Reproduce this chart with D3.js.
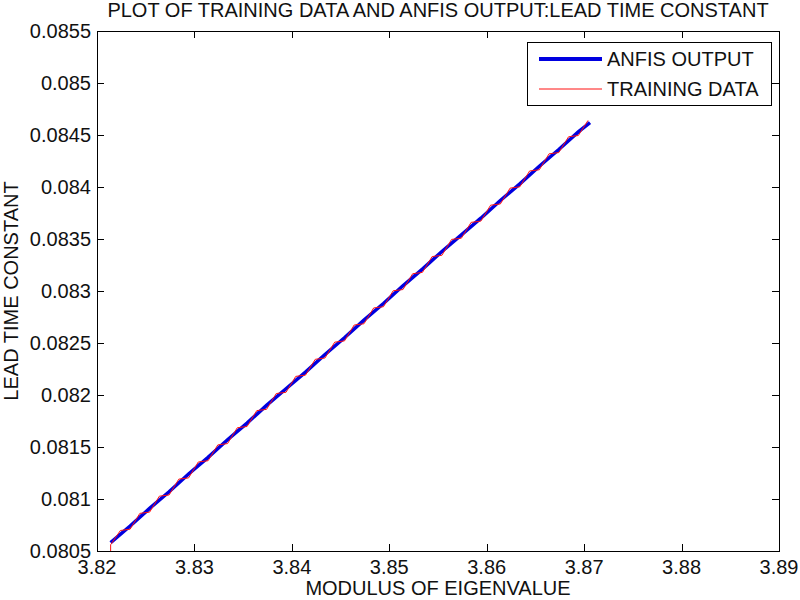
<!DOCTYPE html>
<html>
<head>
<meta charset="utf-8">
<script src="https://cdn.jsdelivr.net/npm/d3@7"></script>
<style>
  body { margin: 0; background: #fff; }
  text { font-family: "Liberation Sans", Arial, sans-serif; fill: #111; }
</style>
</head>
<body>
<div id="chart"></div>
<script>
// ANFIS output (thick blue)
const anfisX = [3.8214, 3.8234, 3.8254, 3.8274, 3.8294, 3.8314, 3.8334, 3.8354, 3.8374, 3.8394,
  3.8414, 3.8434, 3.8454, 3.8474, 3.8494, 3.8514, 3.8534, 3.8554, 3.8574, 3.8594,
  3.8614, 3.8634, 3.8654, 3.8674, 3.8694, 3.8706];
const anfisY = [0.08058, 0.08074, 0.08091, 0.08107, 0.08124, 0.08140, 0.08157, 0.08173, 0.08190, 0.08206,
  0.08222, 0.08239, 0.08255, 0.08272, 0.08288, 0.08305, 0.08321, 0.08338, 0.08354, 0.08370,
  0.08387, 0.08403, 0.08420, 0.08436, 0.08453, 0.08462];

// training data (thin red)
const trainX = [3.8214, 3.8214, 3.8224, 3.8234, 3.8244, 3.8254, 3.8264, 3.8274, 3.8284, 3.8294, 3.8304,
  3.8314, 3.8324, 3.8334, 3.8344, 3.8354, 3.8364, 3.8374, 3.8384, 3.8394, 3.8404,
  3.8414, 3.8424, 3.8434, 3.8444, 3.8454, 3.8464, 3.8474, 3.8484, 3.8494, 3.8504,
  3.8514, 3.8524, 3.8534, 3.8544, 3.8554, 3.8564, 3.8574, 3.8584, 3.8594, 3.8604,
  3.8614, 3.8624, 3.8634, 3.8644, 3.8654, 3.8664, 3.8674, 3.8684, 3.8694, 3.8704];
const trainY = [0.080500, 0.080560, 0.080697, 0.080710, 0.080862, 0.080874, 0.081027, 0.081039, 0.081191, 0.081203, 0.081356,
  0.081368, 0.081520, 0.081533, 0.081685, 0.081697, 0.081850, 0.081862, 0.082014, 0.082026, 0.082179,
  0.082191, 0.082343, 0.082356, 0.082508, 0.082520, 0.082673, 0.082685, 0.082837, 0.082849, 0.083002,
  0.083014, 0.083166, 0.083179, 0.083331, 0.083343, 0.083496, 0.083508, 0.083660, 0.083672, 0.083825,
  0.083837, 0.083989, 0.084002, 0.084154, 0.084166, 0.084319, 0.084331, 0.084483, 0.084495, 0.084640];

const xTicks = [3.82, 3.83, 3.84, 3.85, 3.86, 3.87, 3.88, 3.89];
const yTicks = [0.0805, 0.081, 0.0815, 0.082, 0.0825, 0.083, 0.0835, 0.084, 0.0845, 0.085, 0.0855];

const width = 800, height = 600;
const margin = { top: 31, right: 21, bottom: 49, left: 97 };
const fontSize = 20;

const svg = d3.select("#chart").append("svg")
  .attr("width", width).attr("height", height);

const x = d3.scaleLinear().domain([3.82, 3.89]).range([margin.left, width - margin.right]);
const y = d3.scaleLinear().domain([0.0805, 0.0855]).range([height - margin.bottom, margin.top]);

function label(txt, px, py, anchor) {
  return svg.append("text")
    .attr("x", px).attr("y", py)
    .attr("text-anchor", anchor)
    .attr("font-size", fontSize)
    .text(txt);
}

const fmt = d3.format("~g");
const tickLen = 7;

// frame
svg.append("rect")
  .attr("x", margin.left + 0.5).attr("y", margin.top + 0.5)
  .attr("width", width - margin.left - margin.right)
  .attr("height", height - margin.top - margin.bottom)
  .attr("fill", "#fff").attr("stroke", "#000").attr("stroke-width", 1);

// ticks, mirrored on all four sides
xTicks.forEach((t) => {
  const px = Math.round(x(t)) + 0.5;
  svg.append("line").attr("x1", px).attr("x2", px)
    .attr("y1", y.range()[0]).attr("y2", y.range()[0] - tickLen).attr("stroke", "#000");
  svg.append("line").attr("x1", px).attr("x2", px)
    .attr("y1", y.range()[1]).attr("y2", y.range()[1] + tickLen).attr("stroke", "#000");
  label(fmt(t), x(t), 574, "middle");
});
yTicks.forEach((t) => {
  const py = Math.round(y(t)) + 0.5;
  svg.append("line").attr("y1", py).attr("y2", py)
    .attr("x1", x.range()[0]).attr("x2", x.range()[0] + tickLen).attr("stroke", "#000");
  svg.append("line").attr("y1", py).attr("y2", py)
    .attr("x1", x.range()[1]).attr("x2", x.range()[1] - tickLen).attr("stroke", "#000");
  label(fmt(t), 91, y(t) + 7, "end");
});

const line = d3.line().x((d) => x(d[0])).y((d) => y(d[1]));

svg.append("path")
  .datum(anfisX.map((v, i) => [v, anfisY[i]]))
  .attr("d", line)
  .attr("fill", "none").attr("stroke", "#0000e0").attr("stroke-width", 3.5);

svg.append("path")
  .datum(trainX.map((v, i) => [v, trainY[i]]))
  .attr("d", line)
  .attr("fill", "none").attr("stroke", "#ff1010").attr("stroke-width", 1);

// legend
svg.append("rect")
  .attr("x", 527.5).attr("y", 42.5).attr("width", 244).attr("height", 63)
  .attr("fill", "#fff").attr("stroke", "#000");
svg.append("line").attr("x1", 539).attr("x2", 602).attr("y1", 59).attr("y2", 59)
  .attr("stroke", "#0000e0").attr("stroke-width", 4);
svg.append("line").attr("x1", 539).attr("x2", 602).attr("y1", 89).attr("y2", 89)
  .attr("stroke", "#ff1010").attr("stroke-width", 1);
label("ANFIS OUTPUT", 607, 66, "start");
label("TRAINING DATA", 607, 96, "start");

// titles
label("PLOT OF TRAINING DATA AND ANFIS OUTPUT:LEAD TIME CONSTANT", 438, 17, "middle");
label("MODULUS OF EIGENVALUE", 438, 595, "middle");
svg.append("text")
  .attr("transform", "translate(18,291) rotate(-90)")
  .attr("text-anchor", "middle").attr("font-size", fontSize)
  .text("LEAD TIME CONSTANT");
</script>
</body>
</html>
